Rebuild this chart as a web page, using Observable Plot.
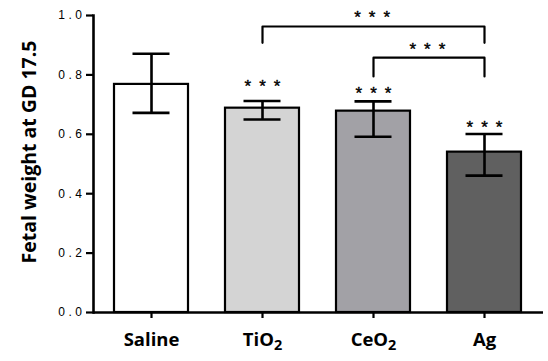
<!DOCTYPE html>
<html>
<head>
<meta charset="utf-8">
<script src="https://cdn.jsdelivr.net/npm/d3@7"></script>
<script src="https://cdn.jsdelivr.net/npm/@observablehq/plot@0.6"></script>
<style>
body { margin: 0; background: #fff; }
#chart svg { display: block; }
</style>
</head>
<body>
<div id="chart"></div>
<script>
const groups = ["Saline", "TiO2", "CeO2", "Ag"];
const means = [0.768, 0.688, 0.678, 0.540];
const errLow = [0.672, 0.650, 0.592, 0.461];
const errHigh = [0.871, 0.712, 0.711, 0.601];
const fills = ["#ffffff", "#d4d4d4", "#a2a1a6", "#606060"];
const yTicks = [0, 0.2, 0.4, 0.6, 0.8, 1.0];

// significance vs saline: stars above bars
const starGroups = ["TiO2", "CeO2", "Ag"];
const starY = [0.772, 0.748, 0.632];

// pairwise brackets
const bracketFrom = ["TiO2", "CeO2"];
const bracketTo = ["Ag", "Ag"];
const bracketTop = [0.963, 0.858];
const bracketFoot = [0.908, 0.795];
const bracketStarY = [1.002, 0.897];

const W = 548, H = 361, ML = 93, MR = 5, MT = 15, MB = 49;
const xOpts = {domain: groups, paddingInner: 0.33, paddingOuter: 0.18, label: null};
const xScale = Plot.scale({x: {...xOpts, type: "band", range: [ML, W - MR]}});

const bars = groups.map((g, i) => ({g, mean: means[i], lo: errLow[i], hi: errHigh[i], fill: fills[i]}));
const stars = starGroups.map((g, i) => ({g, y: starY[i]}));
const bracketPts = [];
const bracketStars = [];
bracketFrom.forEach((a, i) => {
  const b = bracketTo[i];
  bracketPts.push({id: i, g: a, y: bracketFoot[i]}, {id: i, g: a, y: bracketTop[i]},
                  {id: i, g: b, y: bracketTop[i]}, {id: i, g: b, y: bracketFoot[i]});
  bracketStars.push({a, b, y: bracketStarY[i], half: (xScale.apply(b) - xScale.apply(a)) / 2});
});

const starStyle = {text: () => "***", fontSize: 17, dy: 3, fontFamily: "Liberation Sans, Arial, sans-serif",
  fill: "#000", stroke: "#000", strokeWidth: 0.4};

const marks = [
  Plot.barY(bars, {x: "g", y: "mean", fill: "fill", stroke: "#000", strokeWidth: 2.2}),
  Plot.ruleX(bars, {x: "g", y1: "lo", y2: "hi", stroke: "#000", strokeWidth: 2.6}),
  Plot.tickY(bars, {x: "g", y: "lo", stroke: "#000", strokeWidth: 2.6, insetLeft: 18.5, insetRight: 18.5}),
  Plot.tickY(bars, {x: "g", y: "hi", stroke: "#000", strokeWidth: 2.6, insetLeft: 18.5, insetRight: 18.5}),
  Plot.text(stars, {x: "g", y: "y", ...starStyle, dx: 4, className: "stars"}),
  Plot.line(bracketPts, {x: "g", y: "y", z: "id", stroke: "#000", strokeWidth: 2.2}),
  ...bracketStars.map(s => Plot.text([s], {x: "a", y: "y", ...starStyle, dx: s.half + 2, className: "stars"})),
  Plot.ruleY([0], {stroke: "#000", strokeWidth: 2.6}),
  Plot.frame({anchor: "left", stroke: "#000", strokeWidth: 2.6}),
  Plot.axisY({ticks: yTicks, tickFormat: d3.format(".1f"), tickSize: 7, tickPadding: 1,
    fontSize: 12, fontFamily: "Liberation Sans, Arial, sans-serif", strokeWidth: 2.2, label: null}),
  Plot.axisX({tickSize: 6, tickPadding: 14, fontSize: 18.5, fontWeight: "bold",
    fontFamily: "Open Sans, sans-serif", strokeWidth: 2.2, label: null}),
  Plot.text(["Fetal weight at GD 17.5"], {frameAnchor: "left", dx: -64, dy: -12, rotate: -90, textAnchor: "middle",
    fontSize: 19.5, fontWeight: "bold", fontFamily: "Open Sans, sans-serif", fill: "#000"})
];

const plot = Plot.plot({
  width: W, height: H,
  marginLeft: ML, marginRight: MR, marginTop: MT, marginBottom: MB,
  x: xOpts,
  y: {domain: [0, 1], label: null},
  marks
});

document.getElementById("chart").appendChild(plot);

// letter-spaced numeric tick labels & stars, subscripts in category labels
d3.select(plot).selectAll("g[aria-label='y-axis tick label'] text").attr("letter-spacing", "3.5px");
d3.select(plot).selectAll("g.stars text").attr("letter-spacing", "8px");
d3.select(plot).selectAll("g[aria-label='x-axis tick label'] text").each(function() {
  const t = this.textContent;
  const m = t.match(/^(.*?)(\d)$/);
  if (m) {
    const sel = d3.select(this);
    sel.text(m[1]);
    sel.append("tspan").attr("dy", "0.28em").attr("font-size", "0.78em").text(m[2]);
  }
});
</script>
</body>
</html>
